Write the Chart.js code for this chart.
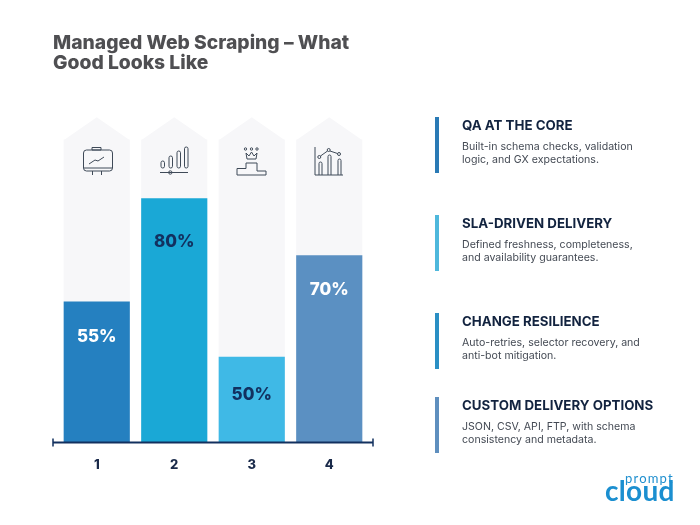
<!DOCTYPE html>
<html>
<head>
<meta charset="utf-8">
<style>
  html, body { margin: 0; background: #fff; }
  #wrap { position: relative; width: 700px; height: 525px; overflow: hidden; font-family: Inter, sans-serif; }
  canvas { position: absolute; left: 0; top: 0; }
  .rule { position: absolute; left: 435px; width: 4px; }
  .head { position: absolute; left: 462px; font-size: 13.3px; font-weight: 700; color: #12233f; line-height: 18px; white-space: nowrap; }
  .body { position: absolute; left: 462px; font-size: 10.6px; color: #444a54; line-height: 13px; white-space: nowrap; }
  svg { position: absolute; left: 0; top: 0; pointer-events: none; }
</style>
</head>
<body>
<div id="wrap">
  <canvas id="chart" width="700" height="525"></canvas>
  <div id="notes"></div>
  <svg width="700" height="525" fill="none" stroke="#3f4a58" stroke-width="1">
    <rect x="83.5" y="150" width="29" height="21" rx="3"/><path d="M84 168H112M92 147.500H101V150H92ZM92.500 171V175M101.500 171V175M89 164L95 160L98 161L104 157"/>
    <rect x="161" y="161" width="3.500" height="7" rx="1.700"/><rect x="169" y="156" width="3.500" height="12" rx="1.700"/><rect x="177" y="151" width="3.500" height="17" rx="1.700"/><rect x="184.500" y="147" width="3.500" height="21" rx="1.700"/><path d="M160 172.500H188"/><circle cx="170.300" cy="172.500" r="1.700"/>
    <path d="M246 153L249 156L251.500 152L254 156L257 153L256 159H247ZM237 175V168.500H246V163H257V171H266V175Z"/><circle cx="245.500" cy="149" r="1.200"/><circle cx="251.500" cy="149" r="1.200"/><circle cx="257" cy="149" r="1.200"/>
    <path d="M315 147V175H343M319 175V163.500A1.500 1.500 0 0 1 322 163.500V175M328 175V156.500A1.500 1.500 0 0 1 331 156.500V175M338 175V160.500A1.500 1.500 0 0 1 341 160.500V175M320.500 156L327.500 151M330 151L337.500 153.500"/><circle cx="319.300" cy="157" r="1.500"/><circle cx="328.700" cy="150" r="1.500"/><circle cx="339" cy="154" r="1.500"/>
  </svg>
  <svg width="700" height="525">
    <text x="625" y="483" font-family="Lato" font-size="13" letter-spacing="1.200" fill="#1f8fcf">prompt</text>
    <text x="605" y="501" font-family="Lato" font-weight="700" font-size="28" letter-spacing="0.300" fill="#1b8fd0">cloud</text>
  </svg>
</div>
<script src="https://cdn.jsdelivr.net/npm/chart.js@4/dist/chart.umd.min.js"></script>
<script>
const categories = ['1', '2', '3', '4'];
// bar heights as drawn in the picture, they do not follow the printed percentages
const barValues = [43.2, 75, 26.2, 57.4];
const barLabels = ['55%', '80%', '50%', '70%'];
const backdropValues = [93, 93, 93, 93];
const roofPeak = 100;
const barColors = ['#2580c0', '#1aa8d6', '#3fb9e6', '#5b90c2'];
const labelColors = ['#ffffff', '#12305f', '#12305f', '#ffffff'];
const labelDrops = [35, 43, 38, 34];

const headings = ['QA AT THE CORE', 'SLA-DRIVEN DELIVERY', 'CHANGE RESILIENCE', 'CUSTOM DELIVERY OPTIONS'];
const notes = [
  ['Built-in schema checks, validation', 'logic, and GX expectations.'],
  ['Defined freshness, completeness,', 'and availability guarantees.'],
  ['Auto-retries, selector recovery, and', 'anti-bot mitigation.'],
  ['JSON, CSV, API, FTP, with schema', 'consistency and metadata.']
];
const noteColors = ['#2a7ab5', '#4fb8dc', '#2a8fc4', '#5f8fbe'];
const ruleTops = [117, 215, 313, 397];
const headTops = [116, 214, 312, 396];
const bodyTops = [140, 238, 336, 420];

const box = document.getElementById('notes');
headings.forEach((h, i) => {
  box.insertAdjacentHTML('beforeend',
    `<div class="rule" style="top:${ruleTops[i]}px;height:56px;background:${noteColors[i]}"></div>` +
    `<div class="head" style="top:${headTops[i]}px">${h}</div>` +
    `<div class="body" style="top:${bodyTops[i]}px">${notes[i].join('<br>')}</div>`);
});

// pointed tops behind the bars
const roofs = {
  id: 'roofs',
  beforeDatasetsDraw(chart) {
    const ctx = chart.ctx;
    const peak = chart.scales.y.getPixelForValue(roofPeak);
    chart.getDatasetMeta(1).data.forEach((el) => {
      ctx.save();
      ctx.fillStyle = '#f7f7f9';
      ctx.beginPath();
      ctx.moveTo(el.x - el.width / 2, el.y);
      ctx.lineTo(el.x, peak);
      ctx.lineTo(el.x + el.width / 2, el.y);
      ctx.closePath();
      ctx.fill();
      ctx.restore();
    });
  }
};

const barText = {
  id: 'barText',
  afterDatasetsDraw(chart) {
    const ctx = chart.ctx;
    chart.getDatasetMeta(0).data.forEach((el, i) => {
      ctx.save();
      ctx.font = '800 17px Inter';
      ctx.fillStyle = labelColors[i];
      ctx.textAlign = 'center';
      ctx.textBaseline = 'middle';
      ctx.fillText(barLabels[i], el.x, el.y + labelDrops[i]);
      ctx.restore();
    });
  }
};

// baseline runs past the plot on both sides and has end caps
const axisLine = {
  id: 'axisLine',
  afterDatasetsDraw(chart) {
    const ctx = chart.ctx;
    const a = chart.chartArea;
    const y = chart.scales.y.getPixelForValue(0);
    const l = a.left - 5, r = a.right + 5;
    ctx.save();
    ctx.strokeStyle = '#12305f';
    ctx.lineWidth = 2;
    ctx.beginPath();
    ctx.moveTo(l, y);
    ctx.lineTo(r, y);
    ctx.stroke();
    ctx.lineWidth = 1.5;
    ctx.beginPath();
    ctx.moveTo(l, y - 4);
    ctx.lineTo(l, y + 4);
    ctx.moveTo(r, y - 4);
    ctx.lineTo(r, y + 4);
    ctx.stroke();
    ctx.restore();
  }
};

new Chart(document.getElementById('chart'), {
  type: 'bar',
  data: {
    labels: categories,
    datasets: [
      { data: barValues, backgroundColor: barColors, barThickness: 65.5, grouped: false, order: 1 },
      { data: backdropValues, backgroundColor: '#f7f7f9', barThickness: 65.5, grouped: false, order: 2 }
    ]
  },
  options: {
    responsive: false,
    animation: false,
    layout: { padding: { left: 53, right: 332, top: 33, bottom: 45 } },
    plugins: {
      legend: { display: false },
      tooltip: { enabled: false },
      title: {
        display: true,
        align: 'start',
        text: ['Managed Web Scraping – What', 'Good Looks Like'],
        color: '#4f4f52',
        font: { family: 'Inter', size: 19.3, weight: '800', lineHeight: 1.04 },
        padding: { top: 0, bottom: 44 }
      }
    },
    scales: {
      x: {
        grid: { display: false },
        border: { display: false },
        ticks: { color: '#1a2a4a', font: { family: 'Inter', size: 13, weight: '800' }, padding: 7 }
      },
      y: {
        min: 0,
        max: roofPeak,
        ticks: { display: false },
        grid: { display: false },
        border: { display: false },
        afterFit(scale) { scale.width = 5; }
      }
    }
  },
  plugins: [roofs, barText, axisLine]
});
</script>
</body>
</html>
